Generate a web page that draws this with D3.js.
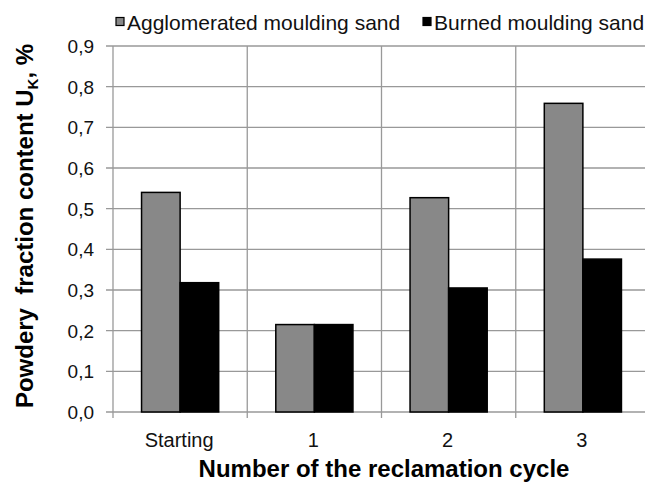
<!DOCTYPE html>
<html>
<head>
<meta charset="utf-8">
<script src="https://cdn.jsdelivr.net/npm/d3@7"></script>
<style>
  body { margin: 0; background: #fff; }
  svg { display: block; font-family: "Liberation Sans", Arial, sans-serif; }
</style>
</head>
<body>
<svg id="chart" width="645" height="487"></svg>
<script>
// data
const categories = ["Starting", "1", "2", "3"];
const seriesNames = ["Agglomerated moulding sand", "Burned moulding sand"];
const agglomerated = [0.540, 0.215, 0.527, 0.759];
const burned = [0.318, 0.215, 0.305, 0.376];
const yTicks = [0, 0.1, 0.2, 0.3, 0.4, 0.5, 0.6, 0.7, 0.8, 0.9];
const colors = ["#888888", "#000000"];

const rows = categories.map((c, i) => ({cat: c, vals: [agglomerated[i], burned[i]]}));

const svg = d3.select("#chart");
const plotL = 113, plotR = 650, plotT = 46, plotB = 412;

let x = d3.scaleBand().domain(categories).range([plotL, plotR]).padding(0);
let x1 = d3.scaleBand().domain([0, 1]).range([0, x.bandwidth()])
  .paddingInner(0).paddingOuter(0.74);
let y = d3.scaleLinear().domain([0, 0.9]).range([plotB, plotT]);

// horizontal grid
svg.append("g")
  .selectAll("line")
  .data(yTicks)
  .join("line")
  .attr("x1", plotL - 7).attr("x2", plotR)
  .attr("y1", d => y(d)).attr("y2", d => y(d))
  .attr("stroke", "#999").attr("stroke-width", 1.3);

// vertical lines at category boundaries
let bounds = categories.map(c => x(c)).concat([plotR]);
svg.append("g")
  .selectAll("line")
  .data(bounds)
  .join("line")
  .attr("x1", d => d).attr("x2", d => d)
  .attr("y1", plotT).attr("y2", plotB + 6)
  .attr("stroke", "#999").attr("stroke-width", 1.3);

// y tick labels
svg.append("g")
  .selectAll("text")
  .data(yTicks)
  .join("text")
  .attr("x", 94)
  .attr("y", d => y(d) + 7)
  .attr("text-anchor", "end")
  .attr("font-size", 19)
  .attr("fill", "#111")
  .text(d => d.toFixed(1).replace(".", ","));

// bars
let groups = svg.append("g")
  .selectAll("g")
  .data(rows)
  .join("g")
  .attr("transform", d => "translate(" + x(d.cat) + ",0)");

groups.selectAll("rect")
  .data(d => d.vals.map((v, i) => ({i: i, v: v})))
  .join("rect")
  .attr("x", d => x1(d.i))
  .attr("width", x1.bandwidth())
  .attr("y", d => y(d.v))
  .attr("height", d => y(0) - y(d.v))
  .attr("fill", d => colors[d.i])
  .attr("stroke", "#000")
  .attr("stroke-width", 1.5);

// x labels
svg.append("g")
  .selectAll("text")
  .data(categories)
  .join("text")
  .attr("x", d => x(d) + x.bandwidth() / 2 - 1)
  .attr("y", 447)
  .attr("text-anchor", "middle")
  .attr("font-size", 20)
  .attr("fill", "#111")
  .text(d => d);

// axis titles
svg.append("text")
  .attr("x", 384).attr("y", 477)
  .attr("text-anchor", "middle")
  .attr("font-size", 24).attr("font-weight", "bold")
  .text("Number of the reclamation cycle");

let yt = svg.append("text")
  .attr("transform", "translate(33,226) rotate(-90)")
  .attr("text-anchor", "middle")
  .attr("font-size", 24).attr("font-weight", "bold");
yt.append("tspan").text("Powdery\u00a0 fraction content U");
yt.append("tspan").attr("font-size", 15).attr("dy", 5).text("K");
yt.append("tspan").attr("dy", -5).text(", %");

// legend
let legX = [116, 423];
let leg = svg.append("g")
  .selectAll("g")
  .data(seriesNames)
  .join("g")
  .attr("transform", (d, i) => "translate(" + legX[i] + ",0)");
leg.append("rect")
  .attr("x", 0).attr("y", 17.5)
  .attr("width", 8).attr("height", 8)
  .attr("fill", (d, i) => colors[i])
  .attr("stroke", "#000").attr("stroke-width", 1.2);
leg.append("text")
  .attr("x", 11).attr("y", 30)
  .attr("font-size", 21)
  .attr("fill", "#111")
  .text(d => d);
</script>
</body>
</html>
